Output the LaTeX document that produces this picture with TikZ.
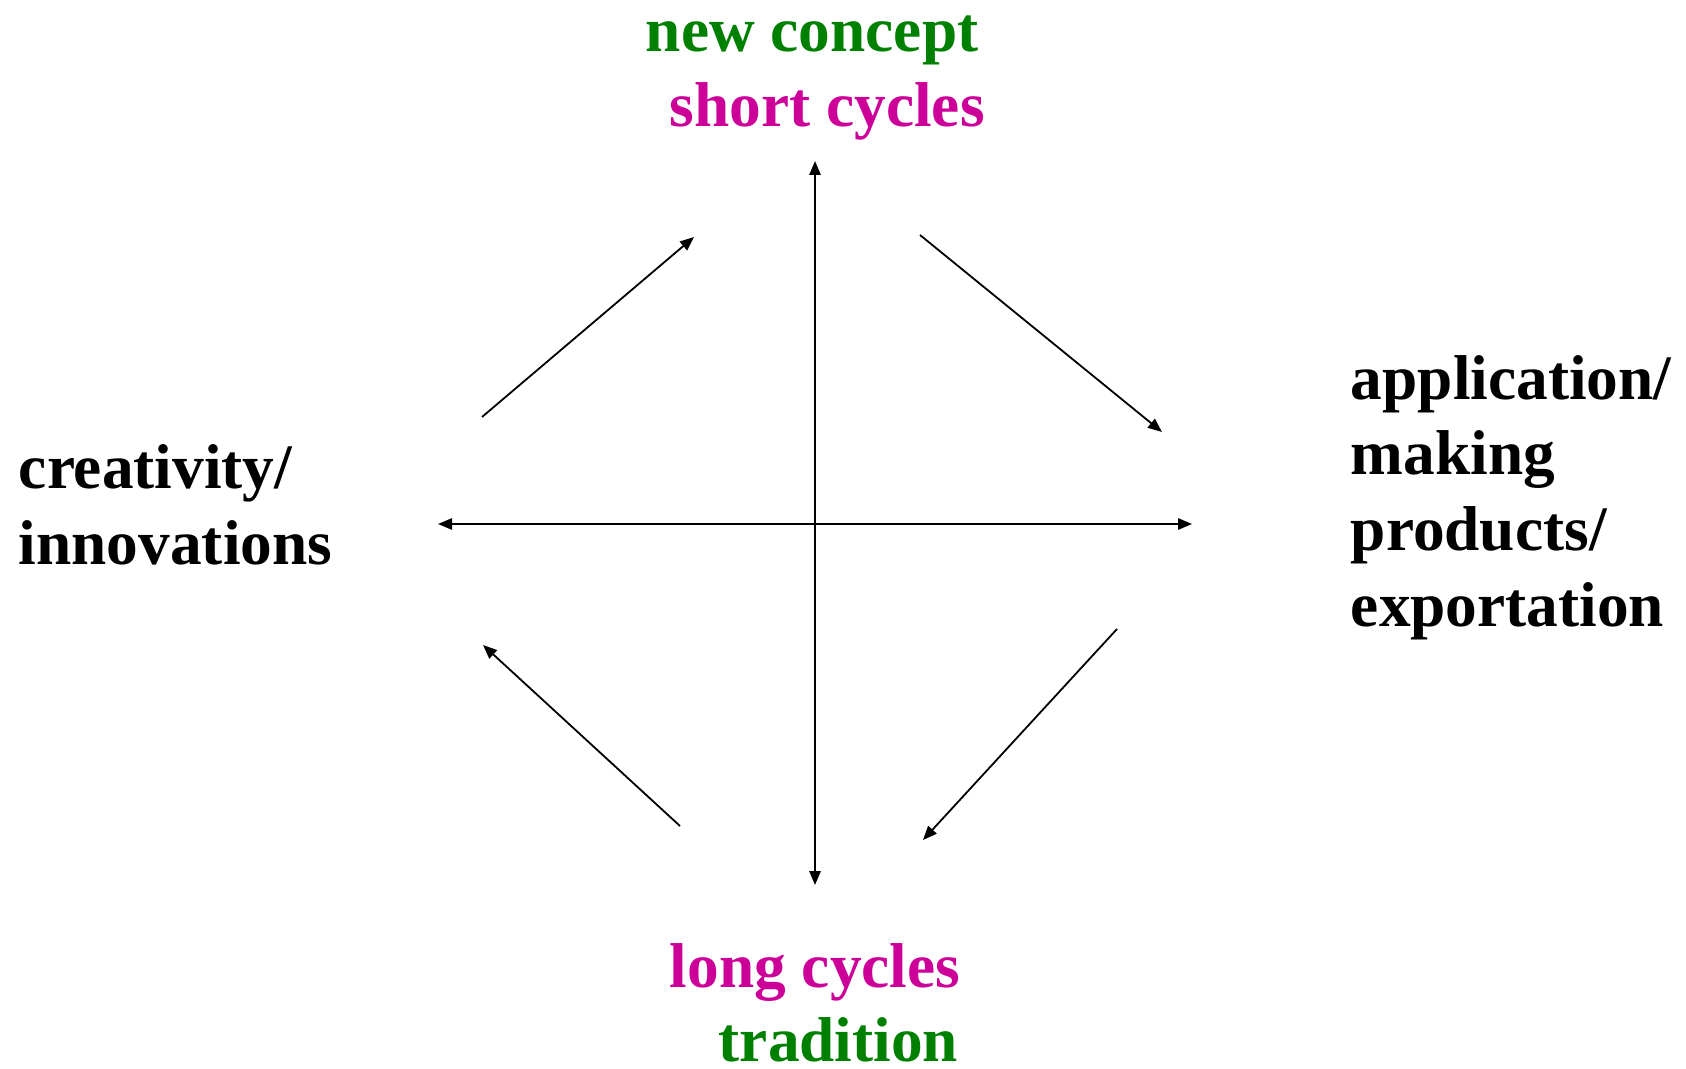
\documentclass[tikz,border=0pt]{standalone}
\usepackage{fontspec}
\setmainfont{Liberation Serif}
\usepackage{xcolor}
\usetikzlibrary{arrows.meta}
\definecolor{labelgreen}{HTML}{008000}
\definecolor{labelmagenta}{HTML}{CC0099}
\tikzset{
  label text/.style={
    inner sep=0pt,
    anchor=base west,
    align=left,
    font=\fontsize{47.5}{57}\selectfont\bfseries
  },
  flow/.style={
    -{Triangle[length=10.5pt,width=8.5pt]}
  },
  axis/.style={
    {Triangle[length=10.5pt,width=8.5pt]}-{Triangle[length=10.5pt,width=8.5pt]}
  }
}

\begin{document}
\begin{tikzpicture}[line width=1.35pt, x=0.75pt, y=-0.75pt]
  \useasboundingbox (0,0) rectangle (1686,1069);

  \coordinate (O) at (815,524);
  \coordinate (N) at (815,161);
  \coordinate (S) at (815,885);
  \coordinate (W) at (438,524);
  \coordinate (E) at (1192,524);

  % base of a multi-line node is its last line
  \node[label text, text=labelgreen] (concept) at (645,52) {new concept};
  \node[label text, text=labelmagenta] (short) at (669,127) {short cycles};
  \node[label text, text=labelmagenta] (long) at (669,987) {long cycles};
  \node[label text, text=labelgreen] (tradition) at (718,1061) {tradition};
  \node[label text] (creativity) at (18,565) {creativity/\\innovations};
  \node[label text] (application) at (1350,627)
    {application/\\making\\products/\\exportation};

  \draw[axis] (N) -- (S);
  \draw[axis] (W) -- (E);

  \coordinate (A1) at (482,417);
  \coordinate (A2) at (694,237);
  \coordinate (B1) at (920,235);
  \coordinate (B2) at (1162,432);
  \coordinate (C1) at (1117,629);
  \coordinate (C2) at (923,840);
  \coordinate (D1) at (680,826);
  \coordinate (D2) at (483,645);
  \draw[flow] (A1) -- (A2);
  \draw[flow] (B1) -- (B2);
  \draw[flow] (C1) -- (C2);
  \draw[flow] (D1) -- (D2);
\end{tikzpicture}
\end{document}
